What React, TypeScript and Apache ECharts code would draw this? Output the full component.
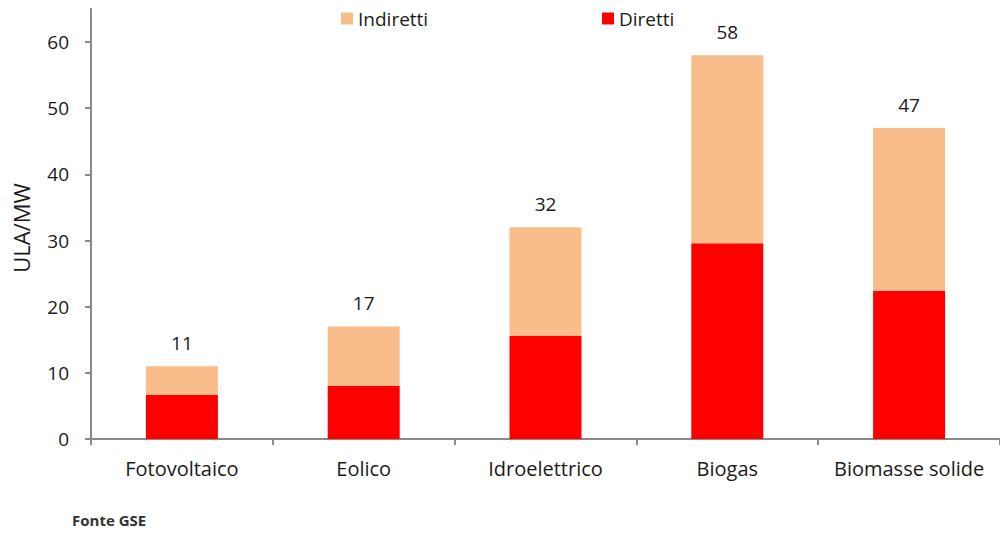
import React, { useEffect, useRef } from "react";
import * as echarts from "echarts";

// Occupazione per MW installato (ULA/MW), per tecnologia
const categories = ["Fotovoltaico", "Eolico", "Idroelettrico", "Biogas", "Biomasse solide"];
const diretti = [6.7, 8.0, 15.6, 29.6, 22.4];
const indiretti = [4.3, 9.0, 16.4, 28.4, 24.6];
const yTicks = [0, 10, 20, 30, 40, 50, 60];

const FONT = "'Open Sans', Lato, sans-serif";
const TEXT = "#1a1a1a";

export default function App() {
  const ref = useRef<HTMLDivElement>(null);

  useEffect(() => {
    if (!ref.current) return;
    const chart = echarts.init(ref.current, null, { renderer: "svg" });
    const totals = diretti.map((d, i) => Math.round(d + indiretti[i]));

    const legendText = { fontSize: 19, color: TEXT, fontFamily: FONT };

    chart.setOption({
      animation: false,
      backgroundColor: "#ffffff",
      textStyle: { fontFamily: FONT },
      grid: { left: 91, top: 9, width: 912, bottom: 94, containLabel: false },
      legend: [
        {
          data: ["Indiretti"],
          left: 336,
          top: 4,
          itemWidth: 12,
          itemHeight: 12,
          itemGap: 6,
          icon: "rect",
          textStyle: legendText,
        },
        {
          data: ["Diretti"],
          left: 597,
          top: 4,
          itemWidth: 12,
          itemHeight: 12,
          icon: "rect",
          textStyle: legendText,
        },
      ],
      xAxis: {
        type: "category",
        data: categories,
        axisLine: { lineStyle: { color: "#8a8a8a", width: 2 } },
        axisTick: { show: true, length: 6, lineStyle: { color: "#8a8a8a", width: 2 } },
        axisLabel: {
          interval: 0,
          hideOverlap: false,
          fontSize: 20,
          color: TEXT,
          margin: 19,
          fontFamily: FONT,
        },
      },
      yAxis: {
        type: "value",
        min: 0,
        max: 65,
        interval: 10,
        splitLine: { show: false },
        axisLine: { show: true, lineStyle: { color: "#8a8a8a", width: 2 } },
        axisTick: { show: true, length: 6, customValues: yTicks, lineStyle: { color: "#8a8a8a", width: 2 } },
        axisLabel: { fontSize: 19, color: TEXT, margin: 22, customValues: yTicks, fontFamily: FONT },
      },
      series: [
        {
          name: "Diretti",
          type: "bar",
          stack: "ula",
          data: diretti,
          barWidth: 72,
          itemStyle: { color: "#ff0000" },
        },
        {
          name: "Indiretti",
          type: "bar",
          stack: "ula",
          data: indiretti,
          barWidth: 72,
          itemStyle: { color: "#f9bd8c" },
          label: {
            show: true,
            position: "top",
            distance: 14,
            fontSize: 19,
            color: TEXT,
            fontFamily: FONT,
            formatter: (p: any) => String(totals[p.dataIndex]),
          },
        },
      ],
      graphic: [
        {
          type: "text",
          x: 21,
          y: 228,
          rotation: Math.PI / 2,
          style: {
            text: "ULA/MW",
            fontSize: 22,
            fill: TEXT,
            fontFamily: FONT,
            align: "center",
            verticalAlign: "middle",
          },
        },
        {
          type: "text",
          left: 72,
          top: 512,
          style: {
            text: "Fonte GSE",
            fontSize: 15,
            fontWeight: "bold",
            fill: "#333",
            fontFamily: FONT,
          },
        },
      ],
    });

    return () => chart.dispose();
  }, []);

  return (
    <div
      ref={ref}
      style={{ position: "absolute", left: 0, top: 0, width: 1000, height: 533 }}
    />
  );
}
